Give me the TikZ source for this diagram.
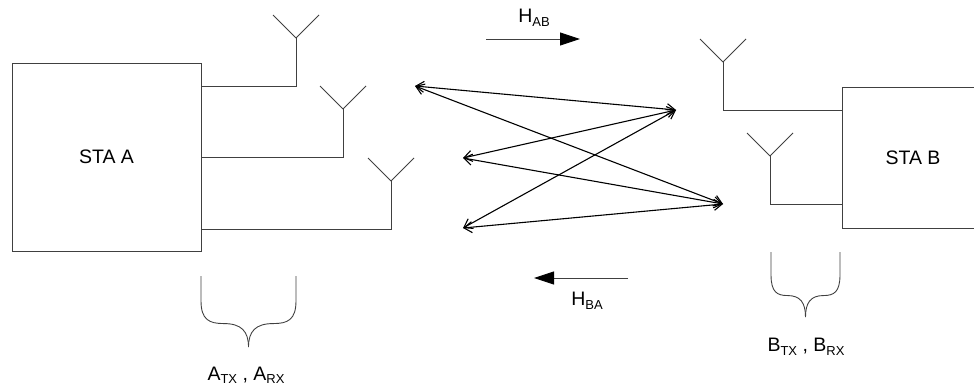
\documentclass[tikz,border=0pt]{standalone}
\usepackage{fontspec}
\setmainfont{Liberation Sans}
\usetikzlibrary{positioning,arrows.meta,calc}

% small lowered index, as in H_AB
\newcommand{\idx}[1]{\raisebox{-0.35ex}{\fontsize{13}{13}\selectfont #1}}

% antenna: a V sitting on the given coordinate
\newcommand{\antenna}[1]{\draw[feed] (#1) -- ++(-23,-23) (#1) -- ++(23,-23);}

% brace that opens upward with its tip below: left, right, top, tip
\newcommand{\tbrace}[4]{%
  \pgfmathsetmacro\bm{(#1+#2)/2}
  \pgfmathsetmacro\bw{\bm-#1}
  \pgfmathsetmacro\bh{#4-#3}
  \pgfmathsetmacro\ya{#3+0.35*\bh}
  \pgfmathsetmacro\yb{#3+0.62*\bh}
  \pgfmathsetmacro\yq{#3+0.67*\bh}
  \pgfmathsetmacro\yc{#3+0.78*\bh}
  \pgfmathsetmacro\xla{#1+0.18*\bw}
  \pgfmathsetmacro\xlq{#1+0.48*\bw}
  \pgfmathsetmacro\xlb{#1+0.85*\bw}
  \pgfmathsetmacro\xra{#2-0.18*\bw}
  \pgfmathsetmacro\xrq{#2-0.48*\bw}
  \pgfmathsetmacro\xrb{#2-0.85*\bw}
  \draw[feed] (#1,#3) -- (#1,\ya) .. controls (#1,\yb) and (\xla,\yq) .. (\xlq,\yq)
    .. controls (\xlb,\yq) and (\bm,\yc) .. (\bm,#4);
  \draw[feed] (#2,#3) -- (#2,\ya) .. controls (#2,\yb) and (\xra,\yq) .. (\xrq,\yq)
    .. controls (\xrb,\yq) and (\bm,\yc) .. (\bm,#4);
}

\begin{document}
\begin{tikzpicture}[
    x=1pt, y=-1pt,
    font=\fontsize{19.5}{22}\selectfont,
    sta/.style={draw=black!75, line width=0.9pt, text=black},
    feed/.style={black!75, line width=0.9pt},
    link/.style={{Straight Barb[length=8pt,width=11pt]}-{Straight Barb[length=8pt,width=11pt]},
                 line width=1.1pt},
    flow/.style={-{Triangle[length=20pt,width=13pt,black]}, black!75, line width=0.9pt},
  ]
  \useasboundingbox (0,0) rectangle (974,385);
  \clip (0,0) rectangle (974,385);

  % --- stations (STA B runs off the right edge) ---
  \node[sta, minimum width=189pt, minimum height=188pt] (staA) at (106.5,157) {STA A};
  \node[sta, anchor=west, minimum width=170pt, minimum height=141pt] (staB) at (842,157.5) {};
  \node (staBtxt) at (913,157.5) {STA B};

  % --- antennas of STA A ---
  \coordinate (ta1) at (296,38);
  \coordinate (ta2) at (343,109);
  \coordinate (ta3) at (391,181);
  \draw[feed] (staA.east |- 0,86)  -| (ta1);
  \draw[feed] (staA.east |- 0,157) -| (ta2);
  \draw[feed] (staA.east |- 0,229) -| (ta3);
  \antenna{ta1} \antenna{ta2} \antenna{ta3}

  % --- antennas of STA B ---
  \coordinate (tb1) at (723,62);
  \coordinate (tb2) at (770,156);
  \draw[feed] (staB.west |- 0,110) -| (tb1);
  \draw[feed] (staB.west |- 0,204) -| (tb2);
  \antenna{tb1} \antenna{tb2}

  % --- paths between the antennas ---
  \coordinate (pa1) at (415,86);
  \coordinate (pa2) at (463,158);
  \coordinate (pa3) at (463,228);
  \coordinate (pb1) at (676,110);
  \coordinate (pb2) at (723,204);
  \foreach \a in {pa1,pa2,pa3}
    \foreach \b in {pb1,pb2}
      \draw[link] (\a) -- (\b);

  % --- channel directions ---
  \coordinate (hab0) at (486,39);
  \coordinate (hab1) at (580,39);
  \draw[flow] (hab0) -- (hab1);
  \node[anchor=base] (hab) at (534,22.5) {H\idx{AB}};

  \coordinate (hba0) at (628,278);
  \coordinate (hba1) at (534,278);
  \draw[flow] (hba0) -- (hba1);
  \node[anchor=base] (hba) at (587,305.5) {H\idx{BA}};

  % --- antenna groups ---
  \tbrace{201}{296}{276}{347}
  \node[anchor=base] (grpA) at (246,380) {A\idx{TX} , A\idx{RX}};
  \tbrace{771}{840}{252}{317}
  \node[anchor=base] (grpB) at (806,351.5) {B\idx{TX} , B\idx{RX}};
\end{tikzpicture}
\end{document}
